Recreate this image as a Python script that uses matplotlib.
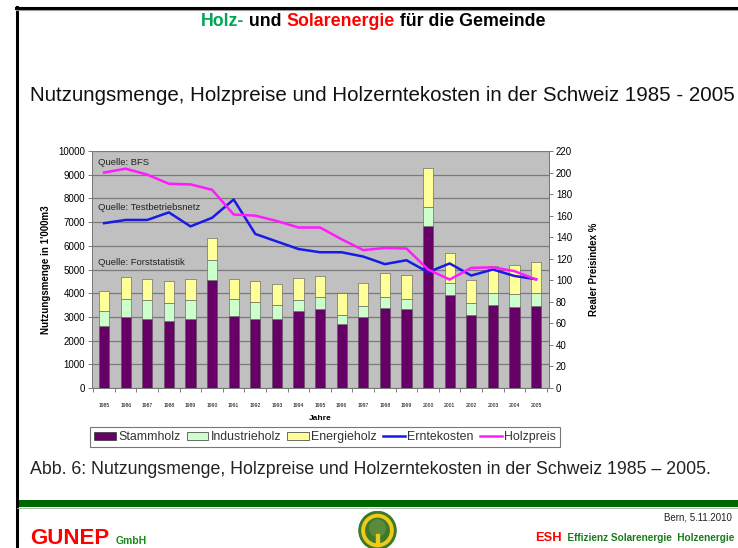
import matplotlib
matplotlib.use("Agg")
import matplotlib.pyplot as plt
from matplotlib.patches import Rectangle, Ellipse, Patch
from matplotlib.lines import Line2D
import numpy as np

plt.rcParams['font.family'] = ['Liberation Sans', 'DejaVu Sans']

years = [str(y) for y in range(1985, 2006)]
stammholz = [2630, 2990, 2930, 2820, 2920, 4540, 3030, 2930, 2930, 3240, 3340,
             2680, 3000, 3390, 3340, 6830, 3940, 3070, 3510, 3420, 3440]
industrie_top = [3240, 3760, 3700, 3590, 3730, 5390, 3760, 3630, 3520, 3730, 3830,
                 3100, 3450, 3850, 3760, 7630, 4440, 3590, 4010, 3970, 3990]
energie_top = [4110, 4680, 4600, 4510, 4580, 6310, 4580, 4510, 4370, 4650, 4720,
               3990, 4410, 4860, 4750, 9300, 5680, 4560, 5140, 5170, 5310]
industrieholz = [b - a for a, b in zip(stammholz, industrie_top)]
energieholz = [b - a for a, b in zip(industrie_top, energie_top)]
erntekosten = [153, 156, 156, 163, 150, 158, 175, 143, 136, 129, 126,
               126, 122, 115, 118.6, 107.5, 115.6, 104.4, 110, 104, 101]
holzpreis = [200, 203.6, 198, 189.6, 189, 184, 161, 160, 155, 149, 149,
             138, 128, 130, 129.5, 110, 100.7, 111.5, 112, 108.5, 100.7]

W, H = 738, 548
fig = plt.figure(figsize=(W / 100, H / 100), dpi=100)

def fx(px):
    return px / W

def fy(py):
    return 1 - py / H

# slide frame
fig.add_artist(Line2D([fx(17), fx(17)], [fy(7), fy(548)], color='black', lw=2.2))
fig.add_artist(Line2D([fx(16), fx(738)], [fy(8), fy(8)], color='black', lw=2.2))
fig.add_artist(Line2D([fx(16), fx(738)], [fy(9.6), fy(9.6)], color='#999999', lw=0.8))
fig.add_artist(Rectangle((fx(17), fy(507)), fx(738) - fx(17), fy(500) - fy(507),
                         transform=fig.transFigure, color='#006600', lw=0))
fig.add_artist(Line2D([fx(17), fx(738)], [fy(508), fy(508)], color='#99bb99', lw=0.6))

# multi-coloured text helper
def multi_text(pieces, x, y, ha='center', weight='bold'):
    fig.canvas.draw()
    r = fig.canvas.get_renderer()
    texts = []
    widths = []
    for s, c, sz in pieces:
        t = fig.text(0, y, s, color=c, fontsize=sz, fontweight=weight, va='baseline')
        w = t.get_window_extent(renderer=r).width
        texts.append(t)
        widths.append(w)
    total = sum(widths)
    if ha == 'center':
        start = x * W - total / 2
    elif ha == 'right':
        start = x * W - total
    else:
        start = x * W
    cur = start
    for t, w in zip(texts, widths):
        t.set_x(cur / W)
        cur += w

multi_text([("Holz-", '#00a651', 12.8), (" und ", 'black', 12.8),
            ("Solarenergie", '#ff0000', 12.8), (" für die Gemeinde", 'black', 12.8)],
           fx(373), fy(26))

fig.text(fx(30), fy(101), "Nutzungsmenge, Holzpreise und Holzerntekosten in der Schweiz 1985 - 2005",
         fontsize=14.8, color='#111111', va='baseline', ha='left')

fig.text(fx(30), fy(474), "Abb. 6: Nutzungsmenge, Holzpreise und Holzerntekosten in der Schweiz 1985 – 2005.",
         fontsize=12.8, color='#222222', va='baseline', ha='left')

# chart
ax = fig.add_axes([fx(92), fy(388), fx(549) - fx(92), fy(151) - fy(388)])
ax.set_facecolor('#c0c0c0')
x = np.arange(len(years))
bw = 0.47
ax.bar(x, stammholz, bw, color='#660066', edgecolor='#555555', lw=0.4, zorder=3)
ax.bar(x, industrieholz, bw, bottom=stammholz, color='#ccffcc', edgecolor='#555555', lw=0.4, zorder=3)
ax.bar(x, energieholz, bw, bottom=industrie_top, color='#ffff99', edgecolor='#555555', lw=0.4, zorder=3)
ax.set_xlim(-0.56, 20.6)
ax.set_ylim(0, 10000)
ax.set_yticks(range(0, 10001, 1000))
ax.yaxis.grid(True, color='#7a7a7a', lw=0.9, zorder=1)
ax.set_axisbelow(True)
ax.tick_params(axis='y', labelsize=7, length=3, width=0.6, color='#666666', pad=2)
ax.set_xticks(x)
ax.set_xticklabels(years, fontsize=3.6)
ax.set_xticks(np.arange(-0.5, 20.6, 1), minor=True)
ax.tick_params(axis='x', which='major', length=0, pad=11)
ax.tick_params(axis='x', which='minor', length=3, width=0.6, color='#666666')
for s in ['top']:
    ax.spines[s].set_visible(False)
for s in ['left', 'right', 'bottom']:
    ax.spines[s].set_color('#777777')
    ax.spines[s].set_linewidth(0.7)
ax.set_ylabel("Nutzungsmenge in 1'000m3", fontsize=7, fontweight='bold', labelpad=5)
ax.set_xlabel("Jahre", fontsize=6, fontweight='bold', labelpad=5)

ax.text(-0.28, 9530, "Quelle: BFS", fontsize=6.8, va='center', color='#222222', zorder=5)
ax.text(-0.28, 7630, "Quelle: Testbetriebsnetz", fontsize=6.8, va='center', color='#222222', zorder=5)
ax.text(-0.28, 5300, "Quelle: Forststatistik", fontsize=6.8, va='center', color='#222222', zorder=5)

ax2 = ax.twinx()
ax2.set_ylim(0, 220)
ax2.set_yticks(range(0, 221, 20))
ax2.plot(x, erntekosten, color='#1a1ae6', lw=1.8, zorder=4)
ax2.plot(x, holzpreis, color='#ff1aff', lw=1.8, zorder=4)
ax2.tick_params(axis='y', labelsize=7, length=3, width=0.6, color='#666666', pad=2)
ax2.spines['top'].set_visible(False)
for s in ['left', 'right', 'bottom']:
    ax2.spines[s].set_color('#777777')
    ax2.spines[s].set_linewidth(0.7)
ax2.set_ylabel("Realer Preisindex %", fontsize=7, fontweight='bold', labelpad=12)

handles = [Patch(facecolor='#660066', edgecolor='#333333', lw=0.5),
           Patch(facecolor='#ccffcc', edgecolor='#333333', lw=0.5),
           Patch(facecolor='#ffff99', edgecolor='#333333', lw=0.5),
           Line2D([], [], color='#1a1ae6', lw=1.8),
           Line2D([], [], color='#ff1aff', lw=1.8)]
labels = ["Stammholz", "Industrieholz", "Energieholz", "Erntekosten", "Holzpreis"]
leg = fig.legend(handles, labels, loc='center', bbox_to_anchor=(fx(325), fy(437)),
                 ncol=5, fontsize=8.9, frameon=True, fancybox=False, edgecolor='#555555',
                 handlelength=1.75, handleheight=0.65, handletextpad=0.2, columnspacing=0.5,
                 borderpad=0.3, borderaxespad=0)
leg.get_frame().set_linewidth(0.8)
for t in leg.get_texts():
    t.set_color('#333333')

# footer
multi_text([("GUNEP", '#ff0000', 16), ("  ", 'black', 8), ("GmbH", '#1a8a1a', 7.5)],
           fx(30), fy(544), ha='left')
fig.text(fx(732), fy(520), "Bern, 5.11.2010", fontsize=7, ha='right', va='baseline', color='#222222')
multi_text([("ESH", '#ff0000', 9.3), ("  Effizienz Solarenergie  Holzenergie", '#1a7a1a', 7.2)],
           fx(734), fy(541), ha='right')

# logo
lax = fig.add_axes([fx(356), fy(550), fx(399) - fx(356), fy(511) - fy(550)])
lax.set_xlim(-1.1, 1.1)
lax.set_ylim(-1.0, 1.0)
lax.axis('off')
lax.add_patch(Ellipse((0, 0), 1.9, 1.95, color='#3a7a2a'))
lax.add_patch(Ellipse((0, 0), 1.6, 1.65, color='#f2c81a'))
lax.add_patch(Ellipse((0, 0), 1.2, 1.25, color='#3a7a2a'))
lax.add_patch(Ellipse((0, 0.12), 0.8, 0.85, color='#5a8a3a'))
lax.add_patch(Rectangle((-0.1, -0.8), 0.2, 0.6, color='#f2c81a'))

fig.savefig("out.png", dpi=100)
